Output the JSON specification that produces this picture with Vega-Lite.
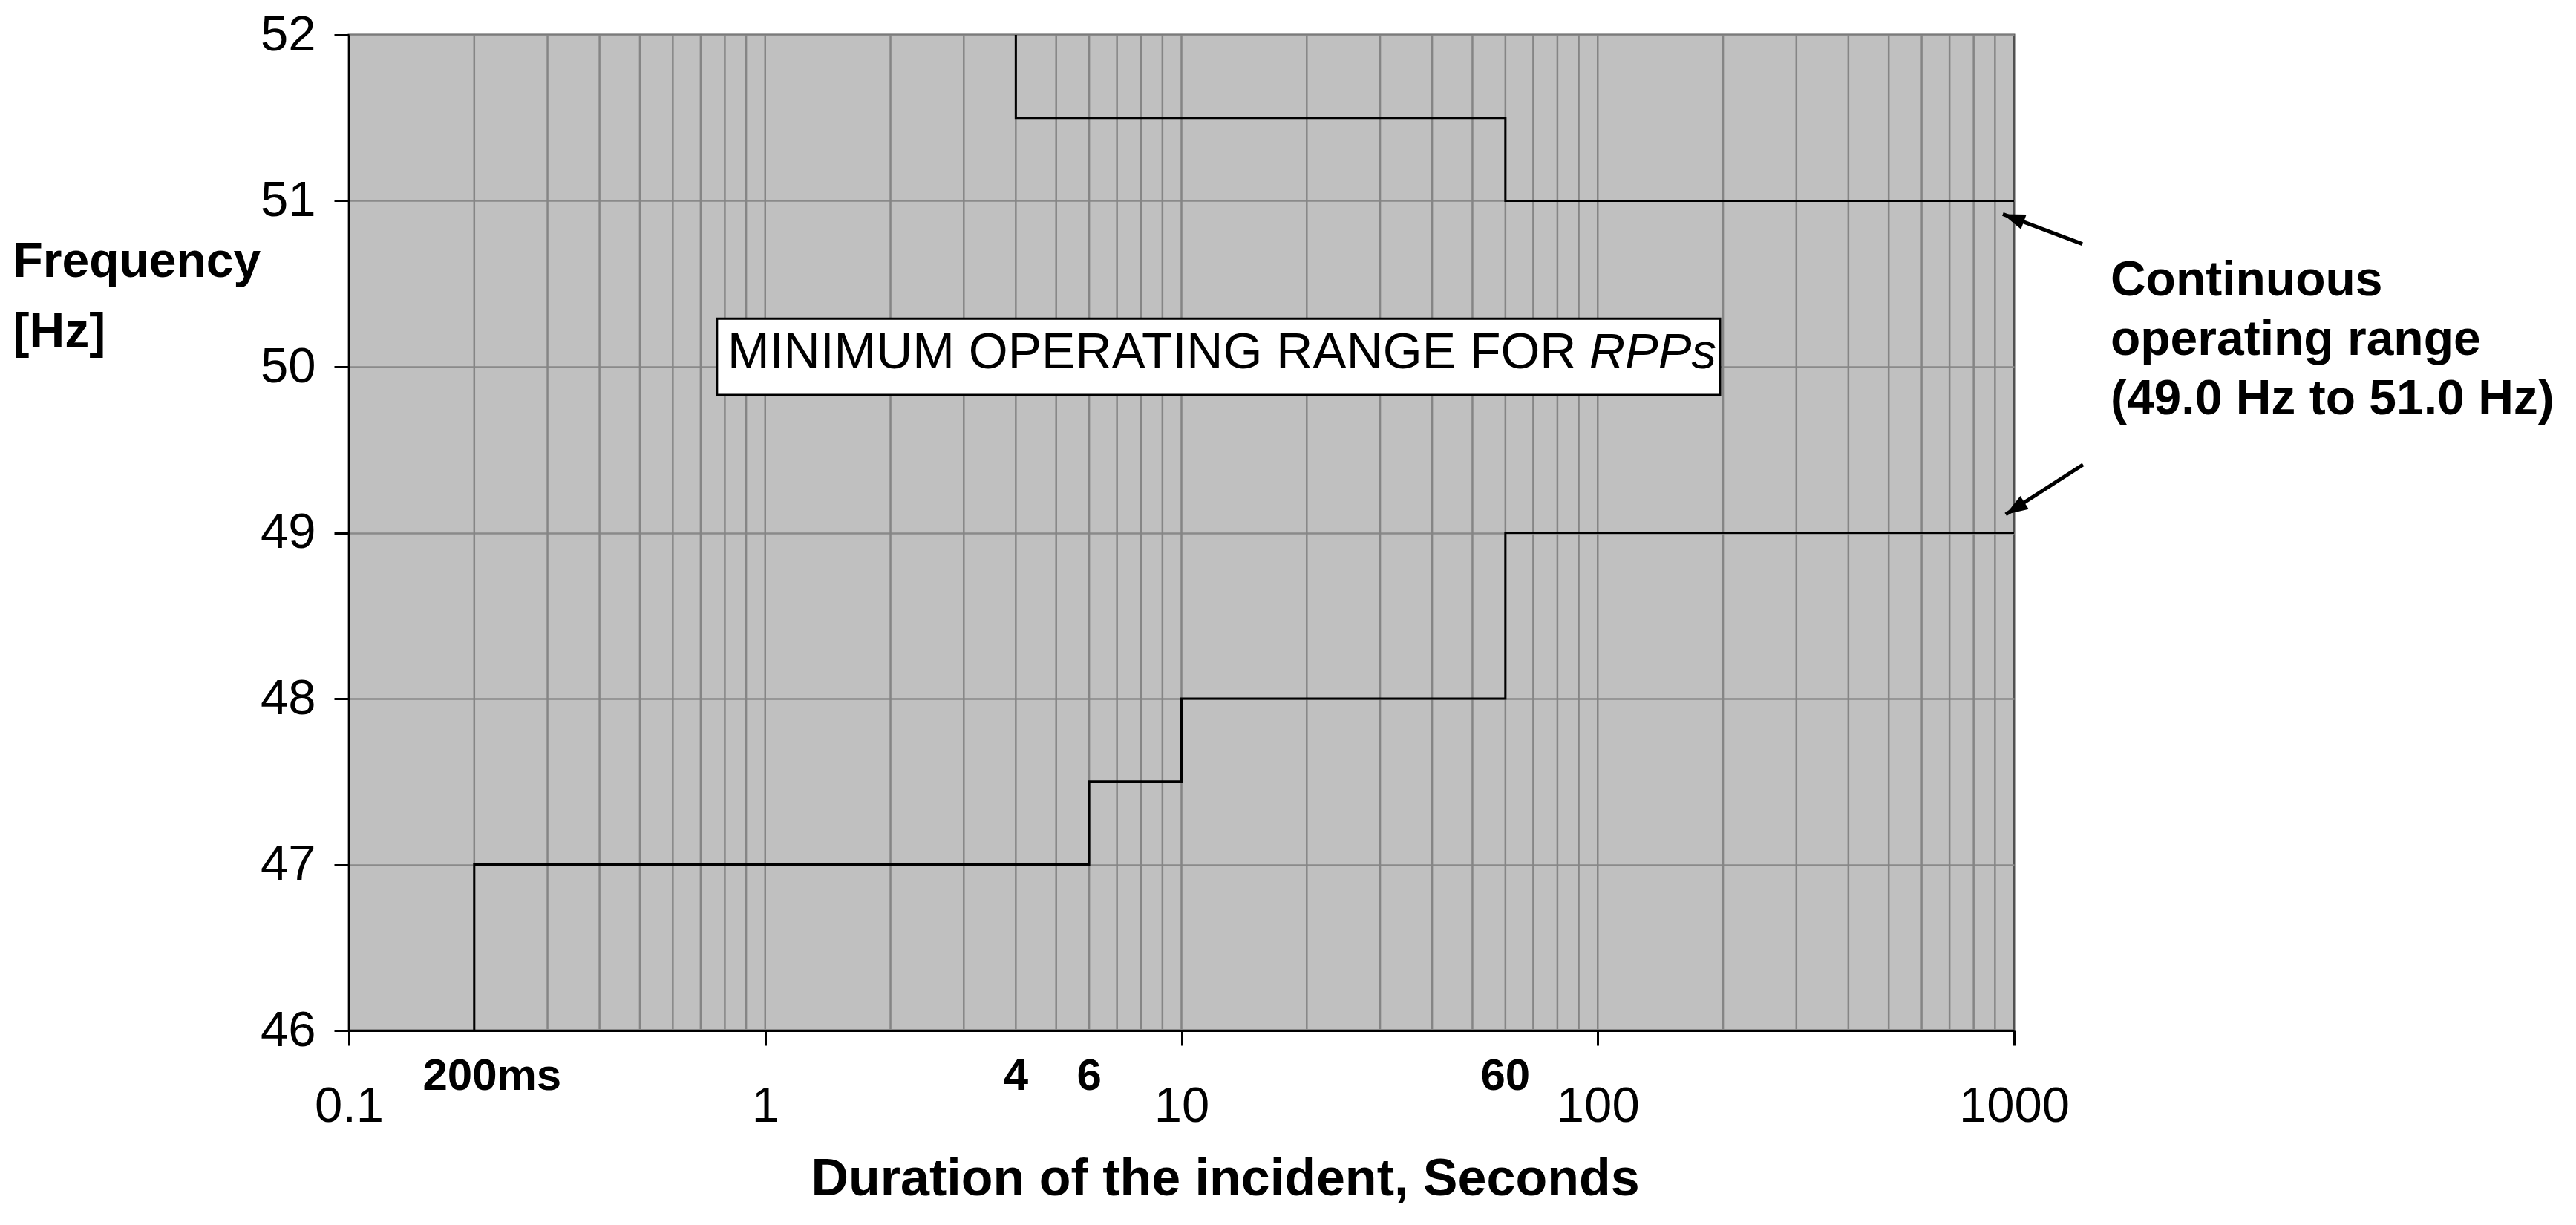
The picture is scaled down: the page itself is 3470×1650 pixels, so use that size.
{
  "$schema": "https://vega.github.io/schema/vega-lite/v6.json",
  "width": 2243,
  "height": 1341,
  "autosize": "none",
  "padding": {"left": 470, "top": 47, "right": 757, "bottom": 262},
  "background": "white",
  "config": {
    "font": "Liberation Sans",
    "view": {"fill": "#c0c0c0", "stroke": "#505050", "strokeWidth": 3}
  },
  "datasets": {
    "gridx": [
      {"x": 0.2}, {"x": 0.3}, {"x": 0.4}, {"x": 0.5}, {"x": 0.6}, {"x": 0.7}, {"x": 0.8}, {"x": 0.9},
      {"x": 1}, {"x": 2}, {"x": 3}, {"x": 4}, {"x": 5}, {"x": 6}, {"x": 7}, {"x": 8}, {"x": 9},
      {"x": 10}, {"x": 20}, {"x": 30}, {"x": 40}, {"x": 50}, {"x": 60}, {"x": 70}, {"x": 80}, {"x": 90},
      {"x": 100}, {"x": 200}, {"x": 300}, {"x": 400}, {"x": 500}, {"x": 600}, {"x": 700}, {"x": 800}, {"x": 900}
    ],
    "steps": [
      {"s": "upper", "i": 0, "x": 4, "y": 52},
      {"s": "upper", "i": 1, "x": 4, "y": 51.5},
      {"s": "upper", "i": 2, "x": 60, "y": 51.5},
      {"s": "upper", "i": 3, "x": 60, "y": 51},
      {"s": "upper", "i": 4, "x": 1000, "y": 51},
      {"s": "lower", "i": 0, "x": 0.2, "y": 46},
      {"s": "lower", "i": 1, "x": 0.2, "y": 47},
      {"s": "lower", "i": 2, "x": 6, "y": 47},
      {"s": "lower", "i": 3, "x": 6, "y": 47.5},
      {"s": "lower", "i": 4, "x": 10, "y": 47.5},
      {"s": "lower", "i": 5, "x": 10, "y": 48},
      {"s": "lower", "i": 6, "x": 60, "y": 48},
      {"s": "lower", "i": 7, "x": 60, "y": 49},
      {"s": "lower", "i": 8, "x": 1000, "y": 49}
    ],
    "box": [{"x": 0.766, "x2": 196.7, "y": 50.29, "y2": 49.83}],
    "boxtext": [{"x": 0.812, "y": 49.99, "label": "MINIMUM OPERATING RANGE FOR"}],
    "boxtextit": [{"x": 192.7, "y": 49.99, "label": "RPPs"}],
    "ticklabels": [
      {"x": 4, "label": "4"},
      {"x": 6, "label": "6"},
      {"x": 60, "label": "60"}
    ],
    "mslabel": [{"x": 0.2, "label": "200ms"}],
    "note": [{"x": 1705, "y": 50.43, "label": "Continuous\noperating range\n(49.0 Hz to 51.0 Hz)"}],
    "arrows": [
      {"a": "upper", "x": 1459, "y": 50.74, "x2": 940, "y2": 50.92},
      {"a": "lower", "x": 1465, "y": 49.41, "x2": 955, "y2": 49.11}
    ]
  },
  "layer": [
    {
      "data": {"name": "gridx"},
      "mark": {"type": "rule", "color": "#858585", "strokeWidth": 2.5},
      "encoding": {
        "x": {
          "field": "x",
          "type": "quantitative",
          "scale": {"type": "log", "domain": [0.1, 1000], "nice": false},
          "axis": {
            "values": [0.1, 1, 10, 100, 1000],
            "format": "~g",
            "grid": false,
            "domainColor": "black",
            "domainWidth": 3,
            "tickColor": "black",
            "tickWidth": 3,
            "tickSize": 20,
            "labelFontSize": 67,
            "labelColor": "black",
            "labelPadding": 49,
            "labelFlush": false,
            "title": "Duration of the incident, Seconds",
            "titleFontSize": 70,
            "titleFontWeight": "bold",
            "titleColor": "black",
            "titleX": 1180,
            "titleY": 221,
            "titleBaseline": "alphabetic",
            "titleAlign": "center"
          }
        }
      }
    },
    {
      "data": {"name": "steps"},
      "mark": {"type": "line", "color": "black", "strokeWidth": 3},
      "encoding": {
        "x": {"field": "x", "type": "quantitative"},
        "y": {
          "field": "y",
          "type": "quantitative",
          "scale": {"domain": [46, 52], "nice": false, "zero": false},
          "axis": {
            "values": [46, 47, 48, 49, 50, 51, 52],
            "format": "d",
            "grid": true,
            "gridColor": "#8a8a8a",
            "gridWidth": 2.5,
            "domainColor": "black",
            "domainWidth": 3,
            "tickColor": "black",
            "tickWidth": 3,
            "tickSize": 20,
            "labelFontSize": 67,
            "labelColor": "black",
            "labelPadding": 25,
            "title": ["Frequency", "[Hz]"],
            "titleAngle": 0,
            "titleAlign": "left",
            "titleBaseline": "alphabetic",
            "titleX": -453,
            "titleY": 325,
            "titleFontSize": 66,
            "titleFontWeight": "bold",
            "titleColor": "black",
            "titleLineHeight": 95
          }
        },
        "detail": {"field": "s"},
        "order": {"field": "i", "type": "quantitative"}
      }
    },
    {
      "data": {"name": "box"},
      "mark": {"type": "rect", "fill": "white", "stroke": "black", "strokeWidth": 3},
      "encoding": {
        "x": {"field": "x", "type": "quantitative"},
        "x2": {"field": "x2"},
        "y": {"field": "y", "type": "quantitative"},
        "y2": {"field": "y2"}
      }
    },
    {
      "data": {"name": "boxtext"},
      "mark": {"type": "text", "align": "left", "baseline": "alphabetic", "fontSize": 68, "color": "black"},
      "encoding": {
        "x": {"field": "x", "type": "quantitative"},
        "y": {"field": "y", "type": "quantitative"},
        "text": {"field": "label"}
      }
    },
    {
      "data": {"name": "boxtextit"},
      "mark": {"type": "text", "align": "right", "baseline": "alphabetic", "fontSize": 67, "fontStyle": "italic", "color": "black"},
      "encoding": {
        "x": {"field": "x", "type": "quantitative"},
        "y": {"field": "y", "type": "quantitative"},
        "text": {"field": "label"}
      }
    },
    {
      "data": {"name": "ticklabels"},
      "mark": {"type": "text", "align": "center", "baseline": "alphabetic", "fontSize": 60, "fontWeight": "bold", "color": "black", "dy": 80},
      "encoding": {
        "x": {"field": "x", "type": "quantitative"},
        "y": {"datum": 46},
        "text": {"field": "label"}
      }
    },
    {
      "data": {"name": "mslabel"},
      "mark": {"type": "text", "align": "center", "baseline": "alphabetic", "fontSize": 60, "fontWeight": "bold", "color": "black", "dy": 80, "dx": 24},
      "encoding": {
        "x": {"field": "x", "type": "quantitative"},
        "y": {"datum": 46},
        "text": {"field": "label"}
      }
    },
    {
      "data": {"name": "note"},
      "mark": {"type": "text", "align": "left", "baseline": "alphabetic", "fontSize": 66, "fontWeight": "bold", "color": "black", "lineBreak": "\n", "lineHeight": 80},
      "encoding": {
        "x": {"field": "x", "type": "quantitative"},
        "y": {"field": "y", "type": "quantitative"},
        "text": {"field": "label"}
      }
    },
    {
      "data": {"name": "arrows"},
      "mark": {"type": "rule", "color": "black", "strokeWidth": 5},
      "encoding": {
        "x": {"field": "x", "type": "quantitative"},
        "y": {"field": "y", "type": "quantitative"},
        "x2": {"field": "x2"},
        "y2": {"field": "y2"}
      }
    },
    {
      "data": {"name": "arrows"},
      "transform": [{"filter": "datum.a === 'upper'"}],
      "mark": {"type": "point", "shape": "M0,0L0.7,2L-0.7,2Z", "size": 900, "filled": true, "color": "black", "opacity": 1, "angle": 290.5},
      "encoding": {
        "x": {"field": "x2", "type": "quantitative"},
        "y": {"field": "y2", "type": "quantitative"}
      }
    },
    {
      "data": {"name": "arrows"},
      "transform": [{"filter": "datum.a === 'lower'"}],
      "mark": {"type": "point", "shape": "M0,0L0.7,2L-0.7,2Z", "size": 900, "filled": true, "color": "black", "opacity": 1, "angle": 237.6},
      "encoding": {
        "x": {"field": "x2", "type": "quantitative"},
        "y": {"field": "y2", "type": "quantitative"}
      }
    }
  ]
}
